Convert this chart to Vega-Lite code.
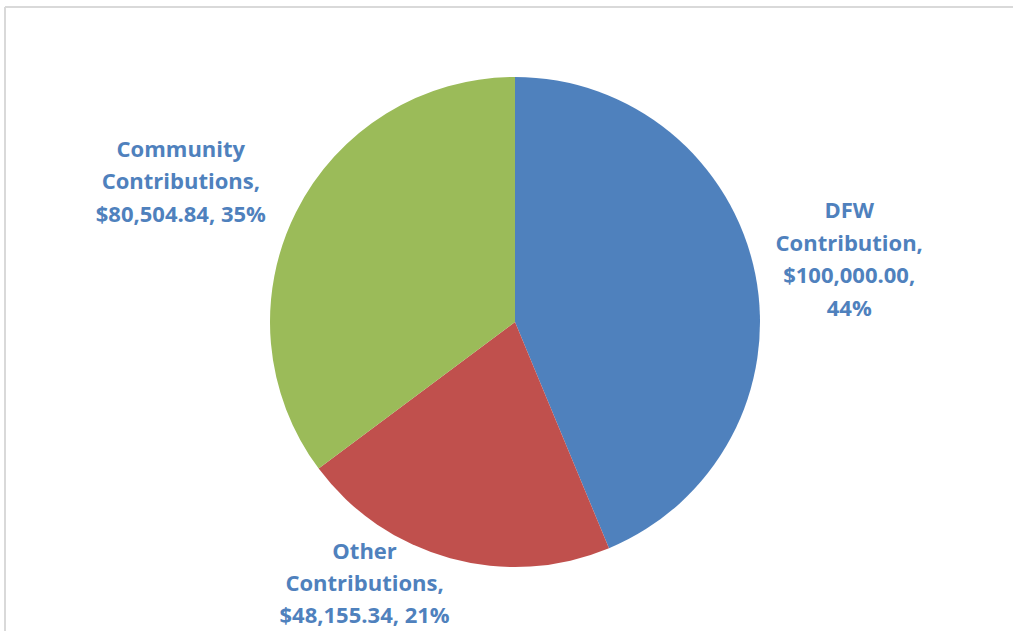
{
  "$schema": "https://vega.github.io/schema/vega-lite/v6.json",
  "autosize": "none",
  "padding": {"left": 5, "top": 7, "right": 0, "bottom": 0},
  "width": 1008,
  "height": 624,
  "background": "white",
  "config": {"view": {"stroke": null}},
  "data": {
    "values": [
      {"category": "DFW Contribution", "value": 100000.00, "label": ["DFW", "Contribution,", "$100,000.00,", "44%"]},
      {"category": "Other Contributions", "value": 48155.34, "label": ["Other", "Contributions,", "$48,155.34, 21%"]},
      {"category": "Community Contributions", "value": 80504.84, "label": ["Community", "Contributions,", "$80,504.84, 35%"]}
    ]
  },
  "layer": [
    {
      "mark": {"type": "rule", "color": "#D9D9D9", "strokeWidth": 1.5},
      "encoding": {"y": {"value": 0}}
    },
    {
      "mark": {"type": "rule", "color": "#D9D9D9", "strokeWidth": 1.5},
      "encoding": {"x": {"value": 0}}
    },
    {
      "mark": {"type": "arc", "radius": 245, "xOffset": 6, "yOffset": 3},
      "encoding": {
        "theta": {"field": "value", "type": "quantitative", "stack": true},
        "order": {"field": "order_none", "type": "quantitative"},
        "color": {
          "field": "category",
          "type": "nominal",
          "sort": null,
          "scale": {"domain": ["DFW Contribution", "Other Contributions", "Community Contributions"], "range": ["#4F81BD", "#C0504D", "#9BBB59"]},
          "legend": null
        }
      }
    },
    {
      "mark": {"type": "text", "radius": 300, "xOffset": 6, "yOffset": 3, "dx": 40, "dy": -52, "font": "Open Sans", "fontSize": 22, "fontWeight": "bold", "color": "#4F81BD", "lineHeight": 32.5, "align": "center", "baseline": "middle"},
      "encoding": {
        "theta": {"field": "value", "type": "quantitative", "stack": true},
        "order": {"field": "order_none", "type": "quantitative"},
        "text": {"condition": {"test": "datum.category === 'DFW Contribution'", "field": "label"}, "value": ""}
      }
    },
    {
      "mark": {"type": "text", "radius": 300, "xOffset": 6, "yOffset": 3, "dx": -71, "dy": -59, "font": "Open Sans", "fontSize": 22, "fontWeight": "bold", "color": "#4F81BD", "lineHeight": 32, "align": "center", "baseline": "middle"},
      "encoding": {
        "theta": {"field": "value", "type": "quantitative", "stack": true},
        "order": {"field": "order_none", "type": "quantitative"},
        "text": {"condition": {"test": "datum.category === 'Other Contributions'", "field": "label"}, "value": ""}
      }
    },
    {
      "mark": {"type": "text", "radius": 300, "xOffset": 6, "yOffset": 3, "dx": -66, "dy": -38, "font": "Open Sans", "fontSize": 22, "fontWeight": "bold", "color": "#4F81BD", "lineHeight": 32.5, "align": "center", "baseline": "middle"},
      "encoding": {
        "theta": {"field": "value", "type": "quantitative", "stack": true},
        "order": {"field": "order_none", "type": "quantitative"},
        "text": {"condition": {"test": "datum.category === 'Community Contributions'", "field": "label"}, "value": ""}
      }
    }
  ]
}
